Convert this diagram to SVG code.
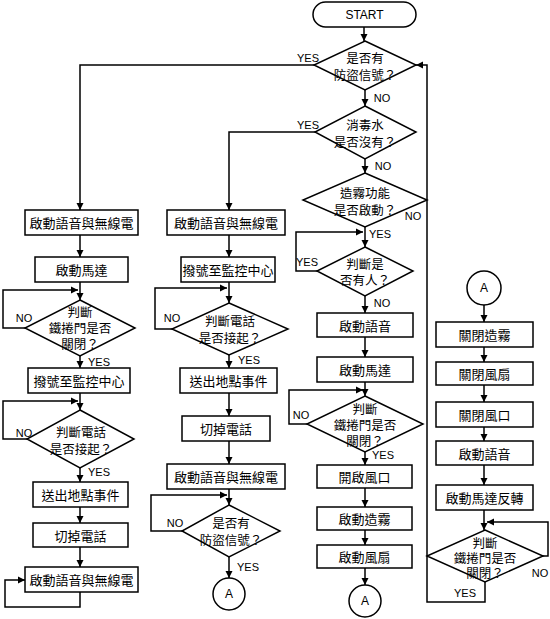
<svg xmlns="http://www.w3.org/2000/svg" width="550" height="619" viewBox="0 0 550 619">
<defs>
<style>
.s{fill:#fff;stroke:#000;stroke-width:1.5}
.c{fill:none;stroke:#000;stroke-width:1.5}
.t{font-family:"Noto Sans CJK TC","Noto Sans CJK SC",sans-serif;font-size:13px;fill:#000;text-anchor:middle;dominant-baseline:central}
.d{font-family:"Noto Sans CJK TC","Noto Sans CJK SC",sans-serif;font-size:12.5px;fill:#000;text-anchor:middle;dominant-baseline:central}
.l{font-family:"Liberation Sans",Arial,sans-serif;font-size:11px;fill:#000;text-anchor:middle;dominant-baseline:central}
.st{font-family:"Liberation Sans",Arial,sans-serif;font-size:12px;fill:#000;text-anchor:middle;dominant-baseline:central}
</style>
<marker id="a" markerUnits="userSpaceOnUse" markerWidth="8" markerHeight="8" refX="7" refY="4" orient="auto">
<path d="M0,0.5 L7,4 L0,7.5 z" fill="#000"/>
</marker>
</defs>
<rect width="550" height="619" fill="#fff"/>
<g id="connectors" class="c" marker-end="url(#a)">
<path d="M364,27 V41"/>
<path d="M314,65 H80 V210"/>
<path d="M365,90 V106"/>
<path d="M315,132 H229 V210"/>
<path d="M365,159 V173"/>
<path d="M365,227 V247"/>
<path d="M317,271 H296 V232 H363"/>
<path d="M365,296 V313"/>
<path d="M365,337 V357"/>
<path d="M365,382 V396"/>
<path d="M307,424 H289 V390 H363"/>
<path d="M365,452 V465"/>
<path d="M365,488 V507"/>
<path d="M365,530 V545"/>
<path d="M365,568 V585"/>
<path d="M80,235 V257"/>
<path d="M80,282 V300"/>
<path d="M25,328 H3 V290 H78"/>
<path d="M80,356 V368"/>
<path d="M80,393 V410"/>
<path d="M27,439 H3 V401 H78"/>
<path d="M80,468 V482"/>
<path d="M80,507 V523"/>
<path d="M80,547 V567"/>
<path d="M80,592 V607 H5 V580 H25"/>
<path d="M229,235 V257"/>
<path d="M229,282 V303"/>
<path d="M172,329 H155 V288 H227"/>
<path d="M229,355 V368"/>
<path d="M229,393 V416"/>
<path d="M229,441 V464"/>
<path d="M229,489 V505"/>
<path d="M182,531 H151 V495 H227"/>
<path d="M229,557 V578"/>
<path d="M484,305 V322"/>
<path d="M484,347 V362"/>
<path d="M484,385 V402"/>
<path d="M484,427 V441"/>
<path d="M484,465 V485"/>
<path d="M484,510 V530"/>
<path d="M543,556 H548 V522 H487"/>
<path d="M485,582 V602 H427 V65 H416"/>
</g>
<g id="start"><rect class="s" x="313" y="2" width="103" height="25" rx="12.5"/><text class="st" x="364.5" y="15">START</text></g>
<g id="d1"><polygon class="s" points="365,41 416,65 365,90 314,65"/><text class="d" x="365" y="57">是否有</text><text class="d" x="365" y="74">防盜信號？</text></g>
<g id="d2"><polygon class="s" points="365,106 416,132 365,159 315,132"/><text class="d" x="365" y="124">消毒水</text><text class="d" x="365" y="141">是否沒有？</text></g>
<g id="d3"><polygon class="s" points="365,173 427,200 365,227 303,200"/><text class="d" x="365" y="192">造霧功能</text><text class="d" x="365" y="209">是否啟動？</text></g>
<g id="d4"><polygon class="s" points="365,247 413,271 365,296 317,271"/><text class="d" x="365" y="263">判斷是</text><text class="d" x="365" y="279">否有人？</text></g>
<g id="b3a"><rect class="s" x="317" y="313" width="96" height="24"/><text class="t" x="365" y="325">啟動語音</text></g>
<g id="b3b"><rect class="s" x="317" y="357" width="96" height="25"/><text class="t" x="365" y="369.5">啟動馬達</text></g>
<g id="d5"><polygon class="s" points="365,396 423,424 365,452 307,424"/><text class="d" x="365" y="408">判斷</text><text class="d" x="365" y="424">鐵捲門是否</text><text class="d" x="365" y="440">關閉？</text></g>
<g id="b3c"><rect class="s" x="317" y="465" width="95" height="23"/><text class="t" x="364.5" y="476.5">開啟風口</text></g>
<g id="b3d"><rect class="s" x="317" y="507" width="95" height="23"/><text class="t" x="364.5" y="518.5">啟動造霧</text></g>
<g id="b3e"><rect class="s" x="317" y="545" width="95" height="23"/><text class="t" x="364.5" y="556.5">啟動風扇</text></g>
<g id="a3"><circle class="s" cx="365" cy="601" r="16"/><text class="st" x="365" y="601">A</text></g>
<g id="b1a"><rect class="s" x="25" y="210" width="113" height="25"/><text class="t" x="81.5" y="222.5">啟動語音與無線電</text></g>
<g id="b1b"><rect class="s" x="35" y="257" width="93" height="25"/><text class="t" x="81.5" y="269.5">啟動馬達</text></g>
<g id="d1a"><polygon class="s" points="80,300 135,328 80,356 25,328"/><text class="d" x="80" y="311">判斷</text><text class="d" x="80" y="327">鐵捲門是否</text><text class="d" x="80" y="343">關閉？</text></g>
<g id="b1c"><rect class="s" x="28" y="368" width="102" height="25"/><text class="t" x="79" y="380.5">撥號至監控中心</text></g>
<g id="d1b"><polygon class="s" points="80,410 134,439 80,468 27,439"/><text class="d" x="81" y="431">判斷電話</text><text class="d" x="81" y="448">是否接起？</text></g>
<g id="b1d"><rect class="s" x="33" y="482" width="95" height="25"/><text class="t" x="80.5" y="494.5">送出地點事件</text></g>
<g id="b1e"><rect class="s" x="33" y="523" width="95" height="24"/><text class="t" x="80.5" y="535">切掉電話</text></g>
<g id="b1f"><rect class="s" x="25" y="567" width="113" height="25"/><text class="t" x="81.5" y="579.5">啟動語音與無線電</text></g>
<g id="b2a"><rect class="s" x="167" y="210" width="118" height="25"/><text class="t" x="226" y="222.5">啟動語音與無線電</text></g>
<g id="b2b"><rect class="s" x="181" y="257" width="94" height="25"/><text class="t" x="228" y="269.5">撥號至監控中心</text></g>
<g id="d2a"><polygon class="s" points="229,303 288,329 229,355 172,329"/><text class="d" x="230" y="320">判斷電話</text><text class="d" x="230" y="337">是否接起？</text></g>
<g id="b2c"><rect class="s" x="180" y="368" width="97" height="25"/><text class="t" x="228.5" y="380.5">送出地點事件</text></g>
<g id="b2d"><rect class="s" x="182" y="416" width="88" height="25"/><text class="t" x="226" y="428.5">切掉電話</text></g>
<g id="b2e"><rect class="s" x="167" y="464" width="118" height="25"/><text class="t" x="226" y="476.5">啟動語音與無線電</text></g>
<g id="d2b"><polygon class="s" points="229,505 280,531 229,557 182,531"/><text class="d" x="231" y="522">是否有</text><text class="d" x="231" y="539">防盜信號？</text></g>
<g id="a2"><circle class="s" cx="229" cy="594" r="16"/><text class="st" x="229" y="594">A</text></g>
<g id="a4"><circle class="s" cx="484" cy="288" r="17"/><text class="st" x="484" y="288">A</text></g>
<g id="b4a"><rect class="s" x="436" y="322" width="97" height="25"/><text class="t" x="484.5" y="334.5">關閉造霧</text></g>
<g id="b4b"><rect class="s" x="436" y="362" width="97" height="23"/><text class="t" x="484.5" y="373.5">關閉風扇</text></g>
<g id="b4c"><rect class="s" x="436" y="402" width="97" height="25"/><text class="t" x="484.5" y="414.5">關閉風口</text></g>
<g id="b4d"><rect class="s" x="436" y="441" width="97" height="24"/><text class="t" x="484.5" y="453">啟動語音</text></g>
<g id="b4e"><rect class="s" x="436" y="485" width="97" height="25"/><text class="t" x="484.5" y="497.5">啟動馬達反轉</text></g>
<g id="d6"><polygon class="s" points="485,530 543,556 485,582 427,556"/><text class="d" x="485" y="542">判斷</text><text class="d" x="485" y="557">鐵捲門是否</text><text class="d" x="485" y="572">關閉？</text></g>
<g id="labels">
<text class="l" x="308" y="58">YES</text>
<text class="l" x="382" y="98">NO</text>
<text class="l" x="308" y="125">YES</text>
<text class="l" x="383" y="166">NO</text>
<text class="l" x="413" y="216">NO</text>
<text class="l" x="380" y="234">YES</text>
<text class="l" x="307" y="262">YES</text>
<text class="l" x="382" y="303">NO</text>
<text class="l" x="301" y="415">NO</text>
<text class="l" x="383" y="455">YES</text>
<text class="l" x="24" y="318">NO</text>
<text class="l" x="99" y="362">YES</text>
<text class="l" x="24" y="433">NO</text>
<text class="l" x="99" y="472">YES</text>
<text class="l" x="172" y="318">NO</text>
<text class="l" x="249" y="360">YES</text>
<text class="l" x="175" y="523">NO</text>
<text class="l" x="248" y="567">YES</text>
<text class="l" x="540" y="573">NO</text>
<text class="l" x="465" y="593">YES</text>
</g>
</svg>
